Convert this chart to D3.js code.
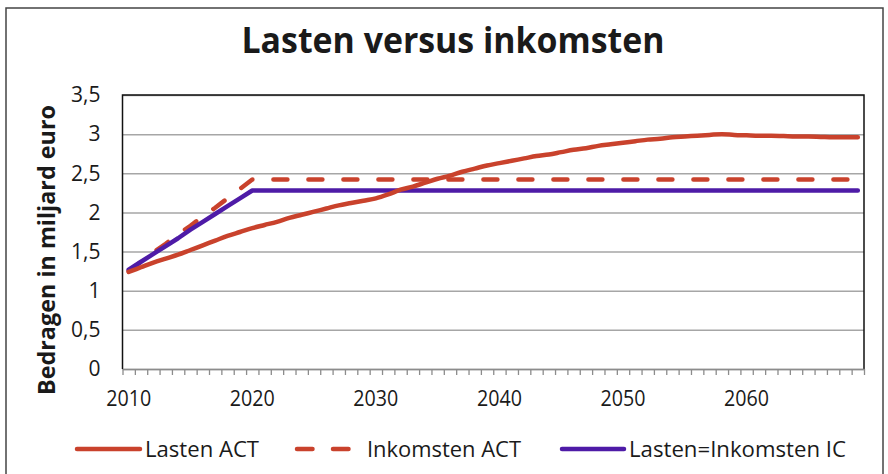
<!DOCTYPE html>
<html lang="nl">
<head>
  <meta charset="UTF-8">
  <script src="https://d3js.org/d3.v7.min.js"></script>
  <title>Lasten versus inkomsten</title>
  <style>
    body { margin: 0; background: #fff; }
    text { font-family: "Open Sans", sans-serif; fill: #1a1a1a; }
  </style>
</head>
<body>
<div id="chart"></div>
<script>

// years 2010 .. 2069
var years = d3.range(2010, 2070);
var yTicks = [0, 0.5, 1, 1.5, 2, 2.5, 3, 3.5];
var xLabels = [2010, 2020, 2030, 2040, 2050, 2060];

var lastenAct = [1.24, 1.30, 1.36, 1.41, 1.46, 1.52, 1.58, 1.64, 1.70, 1.75,
                 1.80, 1.84, 1.88, 1.93, 1.97, 2.01, 2.05, 2.09, 2.12, 2.15,
                 2.18, 2.23, 2.29, 2.33, 2.38, 2.43, 2.47, 2.52, 2.56, 2.60,
                 2.63, 2.66, 2.69, 2.72, 2.74, 2.77, 2.80, 2.82, 2.85, 2.87,
                 2.89, 2.91, 2.93, 2.94, 2.96, 2.97, 2.98, 2.99, 3.00, 2.99,
                 2.985, 2.98, 2.98, 2.975, 2.97, 2.97, 2.965, 2.96, 2.96, 2.96];

var inkomstenAct = [1.25, 1.37, 1.49, 1.60, 1.72, 1.83, 1.95, 2.06, 2.18, 2.30,
                    2.42, 2.42, 2.42, 2.42, 2.42, 2.42, 2.42, 2.42, 2.42, 2.42,
                    2.42, 2.42, 2.42, 2.42, 2.42, 2.42, 2.42, 2.42, 2.42, 2.42,
                    2.42, 2.42, 2.42, 2.42, 2.42, 2.42, 2.42, 2.42, 2.42, 2.42,
                    2.42, 2.42, 2.42, 2.42, 2.42, 2.42, 2.42, 2.42, 2.42, 2.42,
                    2.42, 2.42, 2.42, 2.42, 2.42, 2.42, 2.42, 2.42, 2.42, 2.42];

var lastenIC = [1.27, 1.37, 1.47, 1.57, 1.67, 1.78, 1.88, 1.98, 2.08, 2.18,
                2.28, 2.28, 2.28, 2.28, 2.28, 2.28, 2.28, 2.28, 2.28, 2.28,
                2.28, 2.28, 2.28, 2.28, 2.28, 2.28, 2.28, 2.28, 2.28, 2.28,
                2.28, 2.28, 2.28, 2.28, 2.28, 2.28, 2.28, 2.28, 2.28, 2.28,
                2.28, 2.28, 2.28, 2.28, 2.28, 2.28, 2.28, 2.28, 2.28, 2.28,
                2.28, 2.28, 2.28, 2.28, 2.28, 2.28, 2.28, 2.28, 2.28, 2.28];

var seriesNames = ["Lasten ACT", "Inkomsten ACT", "Lasten=Inkomsten IC"];

var red = "#c9422c", purple = "#4e1ba7";

var W = 888, H = 474;
var plotL = 122.5, plotR = 864, plotT = 95, plotB = 369;

var svg = d3.select("#chart").append("svg")
    .attr("width", W)
    .attr("height", H);

// outer frame
svg.append("rect")
    .attr("x", 6).attr("y", 8)
    .attr("width", 877).attr("height", 480)
    .attr("fill", "none")
    .attr("stroke", "#444")
    .attr("stroke-width", 1.5);

// title
svg.append("text")
    .attr("x", 453).attr("y", 53)
    .attr("text-anchor", "middle")
    .attr("font-size", 36)
    .attr("font-weight", "bold")
    .attr("textLength", 423)
    .attr("lengthAdjust", "spacingAndGlyphs")
    .text("Lasten versus inkomsten");

var x = d3.scaleBand()
    .domain(years)
    .range([plotL, plotR])
    .padding(0);

var xEdge = d3.scaleLinear()
    .domain([0, years.length])
    .range([plotL, plotR]);

var y = d3.scaleLinear()
    .domain([0, 3.5])
    .range([plotB, plotT]);

function cx(i) { return x(years[i]) + x.bandwidth() / 2; }

// gridlines + y labels
var yAxis = svg.append("g")
    .attr("transform", "translate(" + plotL + ",0)")
    .call(d3.axisLeft(y)
        .tickValues(yTicks)
        .tickSize(-(plotR - plotL))
        .tickPadding(22)
        .tickFormat(function(d) { return String(d).replace(".", ","); }));
yAxis.select(".domain").remove();
yAxis.selectAll("line")
    .attr("stroke", "#a6a6a6")
    .attr("stroke-width", 1.5);
yAxis.selectAll("text")
    .attr("font-size", 21)
    .attr("font-family", "Open Sans")
    .attr("fill", "#1a1a1a");

// plot border (left, top, right black)
svg.append("path")
    .attr("d", "M" + plotL + "," + plotB + "V" + plotT + "H" + plotR + "V" + plotB)
    .attr("fill", "none")
    .attr("stroke", "#111")
    .attr("stroke-width", 1.5);

// x tick marks between categories
var xTickAxis = svg.append("g")
    .attr("transform", "translate(0," + plotB + ")")
    .call(d3.axisBottom(xEdge)
        .tickValues(d3.range(years.length + 1))
        .tickSize(6)
        .tickSizeOuter(0)
        .tickFormat(""));
xTickAxis.selectAll("line, path")
    .attr("stroke", "#8c8c8c")
    .attr("stroke-width", 1.3);

// x labels every ten years
var xAxis = svg.append("g")
    .attr("transform", "translate(0," + plotB + ")")
    .call(d3.axisBottom(x)
        .tickValues(xLabels)
        .tickSize(0)
        .tickPadding(22));
xAxis.select(".domain").remove();
xAxis.selectAll("text")
    .attr("font-size", 21)
    .attr("font-family", "Open Sans")
    .attr("fill", "#1a1a1a")
    .attr("textLength", 45)
    .attr("lengthAdjust", "spacingAndGlyphs");

// y axis title
svg.append("text")
    .attr("transform", "translate(55,250) rotate(-90)")
    .attr("text-anchor", "middle")
    .attr("font-size", 23)
    .attr("font-weight", "bold")
    .attr("textLength", 290)
    .attr("lengthAdjust", "spacingAndGlyphs")
    .text("Bedragen in miljard euro");

// lines
var lineSmooth = d3.line()
    .x(function(d, i) { return cx(i); })
    .y(function(d) { return y(d); })
    .curve(d3.curveMonotoneX);

var lineStraight = d3.line()
    .x(function(d, i) { return cx(i); })
    .y(function(d) { return y(d); });

svg.append("path")
    .attr("d", lineStraight(inkomstenAct))
    .attr("fill", "none")
    .attr("stroke", red)
    .attr("stroke-width", 4.5)
    .attr("stroke-dasharray", "14,21")
    .attr("stroke-linecap", "round")
    .attr("stroke-linejoin", "round");

svg.append("path")
    .attr("d", lineStraight(lastenIC))
    .attr("fill", "none")
    .attr("stroke", purple)
    .attr("stroke-width", 4.5)
    .attr("stroke-linecap", "round")
    .attr("stroke-linejoin", "round");

svg.append("path")
    .attr("d", lineSmooth(lastenAct))
    .attr("fill", "none")
    .attr("stroke", red)
    .attr("stroke-width", 4.5)
    .attr("stroke-linecap", "round")
    .attr("stroke-linejoin", "round");

// legend
var legend = [
  {name: seriesNames[0], color: red, dash: null, x1: 77, x2: 140, tx: 145, tw: 114},
  {name: seriesNames[1], color: red, dash: "15.5,20.5", x1: 297, x2: 353, tx: 367, tw: 154},
  {name: seriesNames[2], color: purple, dash: null, x1: 562, x2: 624, tx: 629, tw: 217}
];

var lg = svg.append("g").selectAll("g")
    .data(legend)
    .enter().append("g");

lg.append("line")
    .attr("x1", function(d) { return d.x1; })
    .attr("x2", function(d) { return d.x2; })
    .attr("y1", 449).attr("y2", 449)
    .attr("stroke", function(d) { return d.color; })
    .attr("stroke-width", 4.5)
    .attr("stroke-linecap", "round")
    .attr("stroke-dasharray", function(d) { return d.dash; });

lg.append("text")
    .attr("x", function(d) { return d.tx; })
    .attr("y", 456.5)
    .attr("font-size", 22)
    .attr("textLength", function(d) { return d.tw; })
    .attr("lengthAdjust", "spacingAndGlyphs")
    .text(function(d) { return d.name; });

</script>
</body>
</html>
